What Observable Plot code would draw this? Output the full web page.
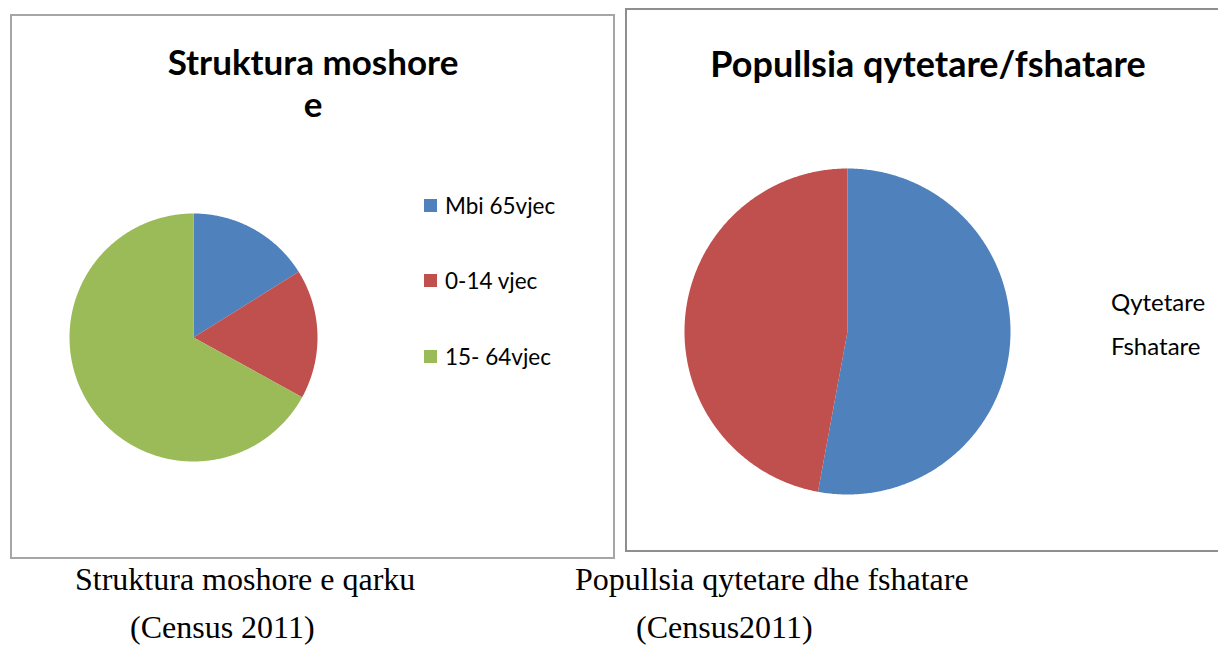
<!DOCTYPE html>
<html>
<head>
<meta charset="utf-8">
<script src="https://cdn.jsdelivr.net/npm/d3@7"></script>
<script src="https://cdn.jsdelivr.net/npm/@observablehq/plot@0.6"></script>
<style>
  html, body { margin: 0; padding: 0; background: #fff; }
  #page { position: relative; width: 1218px; height: 647px; overflow: hidden; background: #fff; }
  .panel { position: absolute; box-sizing: border-box; background: #fff; }
  .abs { position: absolute; white-space: nowrap; }
  .title { font-family: Lato, "Open Sans", sans-serif; font-weight: 700; color: #000; line-height: 40px; transform: translateX(-50%); }
  .leg { font-family: Lato, "Open Sans", sans-serif; font-size: 22.5px; color: #000; line-height: 26px; }
  .sw { position: absolute; width: 13px; height: 13px; }
  .cap { font-family: "Liberation Serif", "DejaVu Serif", serif; font-size: 32px; color: #000; line-height: 30px; }
</style>
</head>
<body>
<div id="page"></div>
<script>
// ---- data ----
const ageLabels = ["Mbi 65vjec", "0-14 vjec", "15- 64vjec"];
const ageValues = [16.1, 16.9, 67.0];
const ageColors = ["#4F81BD", "#C0504D", "#9BBB59"];

const areaLabels = ["Qytetare", "Fshatare"];
const areaValues = [52.9, 47.1];
const areaColors = ["#4F81BD", "#C0504D"];

const leftTitle = ["Struktura moshore", "e"];
const rightTitle = "Popullsia qytetare/fshatare";
const captions = ["Struktura moshore e qarku", "(Census 2011)", "Popullsia qytetare dhe fshatare", "(Census2011)"];

// ---- helpers ----
function piePlot(labels, values, colors, r) {
  const total = d3.sum(values);
  const pts = [];
  let a0 = 0;
  labels.forEach((lab, i) => {
    const a1 = a0 + values[i] / total * 2 * Math.PI;
    pts.push({slice: lab, x: 0, y: 0});
    const n = Math.max(2, Math.ceil((a1 - a0) / (Math.PI / 360)));
    for (let k = 0; k <= n; k++) {
      const t = a0 + (a1 - a0) * k / n;
      pts.push({slice: lab, x: Math.sin(t), y: Math.cos(t)});
    }
    a0 = a1;
  });
  return Plot.plot({
    width: 2 * r + 4, height: 2 * r + 4, margin: 2,
    x: {domain: [-1, 1], axis: null},
    y: {domain: [-1, 1], axis: null},
    color: {domain: labels, range: colors},
    marks: [
      Plot.line(pts, {x: "x", y: "y", z: "slice", fill: "slice", stroke: "none", curve: "linear-closed"})
    ]
  });
}

function add(html, cls, style) {
  const d = document.createElement("div");
  d.className = cls;
  Object.assign(d.style, style);
  if (html != null) d.textContent = html;
  document.getElementById("page").appendChild(d);
  return d;
}

// ---- panels ----
add(null, "panel", {left: "10px", top: "14px", width: "605px", height: "545px", border: "2px solid #a6a6a6"});
add(null, "panel", {left: "625px", top: "8px", width: "600px", height: "544px", border: "2px solid #8f8f8f"});

// titles
add(leftTitle[0], "abs title", {left: "313px", top: "41px", fontSize: "35px"});
add(leftTitle[1], "abs title", {left: "313px", top: "83px", fontSize: "35px"});
add(rightTitle, "abs title", {left: "928px", top: "43px", fontSize: "36px"});

// pies
const lp = piePlot(ageLabels, ageValues, ageColors, 124);
const lw = add(null, "abs", {left: (193 - 126) + "px", top: (337 - 126) + "px"});
lw.appendChild(lp);
const rp = piePlot(areaLabels, areaValues, areaColors, 163);
const rw = add(null, "abs", {left: (847 - 165) + "px", top: (331 - 165) + "px"});
rw.appendChild(rp);

// left legend
const legY = [206, 281, 357];
ageLabels.forEach((lab, i) => {
  add(null, "sw", {left: "424px", top: (legY[i] - 7) + "px", background: ageColors[i]});
  add(lab, "abs leg", {left: "445px", top: (legY[i] - 13) + "px"});
});

// right legend (text only, as in the reference)
const legY2 = [302, 346];
areaLabels.forEach((lab, i) => {
  add(lab, "abs leg", {left: "1111px", top: (legY2[i] - 13) + "px", fontSize: "24px"});
});

// captions
add(captions[0], "abs cap", {left: "75px", top: "564px"});
add(captions[1], "abs cap", {left: "130px", top: "612px"});
add(captions[2], "abs cap", {left: "575px", top: "564px"});
add(captions[3], "abs cap", {left: "636px", top: "612px"});
</script>
</body>
</html>
